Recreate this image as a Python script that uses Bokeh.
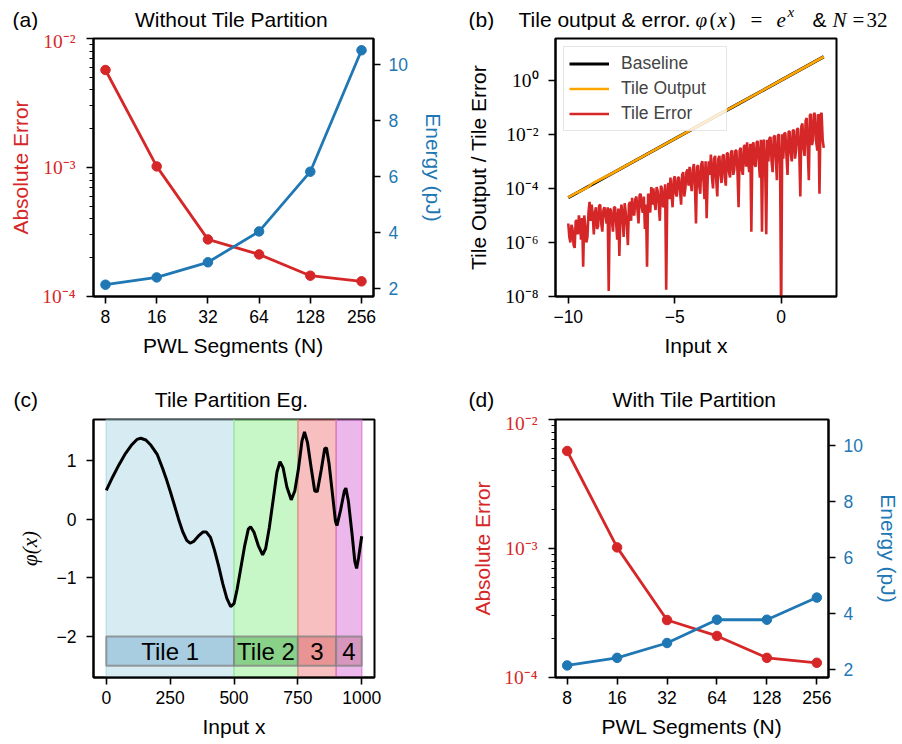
import numpy as np
from bokeh.plotting import figure
from bokeh.models import Range1d, LinearAxis, FixedTicker, BoxAnnotation, Legend, LinearScale
from bokeh.layouts import column, row
from bokeh.embed import file_html
from bokeh.resources import INLINE
from bokeh.core.properties import value

# ---------------- data ----------------
segments = [8, 16, 32, 64, 128, 256]
segment_labels = ["8", "16", "32", "64", "128", "256"]
error_without = [5.7e-3, 1.02e-3, 2.77e-4, 2.12e-4, 1.45e-4, 1.31e-4]
energy_without = [2.14, 2.40, 2.94, 4.04, 6.17, 10.5]
error_with = [5.7e-3, 1.02e-3, 2.79e-4, 2.10e-4, 1.42e-4, 1.30e-4]
energy_with = [2.15, 2.42, 2.95, 3.78, 3.78, 4.57]

baseline_x = [-10, -8, -6, -4, -2, 0, 2]
baseline_y = [4.54e-5, 3.35e-4, 2.48e-3, 1.83e-2, 0.135, 1.0, 7.39]
tile_output_x = [-10, -9.6, -9.1, -8.85, -8, -6, -4, -2, 0, 2]
tile_output_y = [4.6e-5, 6.9e-5, 1.08e-4, 1.55e-4, 3.4e-4, 2.5e-3, 1.84e-2, 0.136, 1.0, 7.39]
tile_error_log10 = [
    -5.3, -5.8, -6.0, -5.35, -5.5, -6.1, -6.2, -5.2, -5.2, -5.7, -5.0, -5.3, -5.9, -5.1, -6.9, -5.0, -5.4, -6.0, -5.8, -4.9,
    -4.5, -5.2, -4.6, -5.0, -5.7, -4.9, -4.7, -5.5, -5.4, -4.65, -4.6, -5.3, -5.6, -4.8, -4.7, -5.0, -5.3, -4.7, -7.8, -4.75,
    -4.8, -5.2, -5.6, -4.7, -4.7, -5.3, -5.9, -4.75, -6.5, -5.0, -4.6, -5.1, -5.8, -4.55, -4.9, -5.4, -6.1, -4.6, -4.5, -5.2,
    -4.35, -4.9, -5.0, -4.4, -4.3, -4.8, -5.3, -4.25, -4.2, -4.7, -4.9, -4.3, -5.5, -4.6, -6.9, -4.2, -4.3, -4.9, -3.95, -4.6,
    -4.0, -4.5, -4.8, -3.95, -4.1, -4.6, -5.2, -3.9, -4.0, -4.7, -4.6, -3.85, -7.75, -4.3, -3.8, -4.4, -3.6, -4.2, -4.7, -3.7,
    -3.55, -4.2, -4.3, -3.6, -3.6, -4.1, -4.6, -3.5, -3.4, -4.3, -4.0, -3.4, -3.3, -3.9, -3.2, -3.8, -4.1, -3.3, -3.1, -3.9,
    -5.3, -3.2, -3.15, -3.9, -4.2, -3.1, -3.0, -3.7, -4.4, -3.0, -5.1, -3.6, -3.0, -3.5, -2.75, -3.6, -4.0, -2.9, -2.8, -3.7,
    -4.3, -2.9, -2.8, -3.5, -3.8, -2.8, -2.75, -3.6, -3.9, -2.7, -2.7, -3.4, -3.6, -2.65, -2.6, -3.5, -3.3, -2.6, -2.6, -3.4,
    -4.7, -2.6, -2.5, -3.3, -3.5, -2.45, -2.4, -3.2, -2.3, -3.0, -3.4, -2.35, -5.6, -2.4, -2.3, -3.1, -3.2, -2.3, -2.25, -3.0,
    -3.6, -2.2, -5.6, -2.3, -2.2, -3.2, -5.7, -2.2, -3.0, -2.15, -2.1, -3.0, -3.4, -2.1, -2.05, -2.9, -3.7, -2.05, -2.0, -3.1,
    -9.0, -2.0, -2.9, -1.95, -1.97, -2.8, -3.5, -1.9, -1.9, -2.7, -3.0, -1.85, -1.85, -2.9, -2.6, -1.8, -1.8, -2.6, -4.3, -1.7,
    -1.6, -2.5, -2.8, -1.5, -1.4, -2.6, -3.7, -1.3, -1.25, -2.4, -2.2, -1.2, -1.3, -2.3, -2.6, -1.25, -4.2, -1.3, -1.2, -2.2,
    -2.5]
tile_error_x = np.linspace(-10, 2, len(tile_error_log10))
tile_error = [10.0 ** v for v in tile_error_log10]

phi_x = [0, 25, 50, 75, 100, 120, 135, 155, 175, 200, 221, 234, 250, 266, 283,
         299, 315, 328, 342, 360, 378, 392, 408, 423, 440, 456, 472, 487, 500, 512,
         526, 542, 556, 565, 578, 595, 612, 624, 638, 654, 668, 680, 692, 707, 724,
         738, 752, 766, 776, 788, 803, 816, 826, 842, 855, 862, 872, 885, 897, 903,
         917, 932, 938, 948, 962, 973, 980, 988, 1000]
phi_y = [0.49, 0.72, 0.93, 1.12, 1.27, 1.36, 1.38, 1.35, 1.26, 1.10, 0.86, 0.70, 0.48, 0.25, 0.0,
         -0.21, -0.36, -0.41, -0.38, -0.29, -0.22, -0.22, -0.31, -0.52, -0.80, -1.10, -1.35, -1.49, -1.44, -1.20,
         -0.85, -0.45, -0.17, -0.13, -0.22, -0.45, -0.61, -0.50, -0.15, 0.35, 0.80, 0.98, 0.88, 0.55, 0.33,
         0.48, 0.85, 1.33, 1.49, 1.30, 0.85, 0.48, 0.47, 0.85, 1.20, 1.22, 0.95, 0.45, -0.03, -0.11,
         0.15, 0.48, 0.53, 0.30, -0.25, -0.72, -0.84, -0.65, -0.29]
tile_labels = ["Tile 1", "Tile 2", "3", "4"]
tile_start = [0, 500, 750, 900]
tile_end = [500, 750, 900, 1000]
tile_box_bottom = -2.5
tile_box_top = -2.0
band_colors = ["lightblue", "lightgreen", "lightcoral", "orchid"]
box_colors = ["#A8CCE0", "#89D089", "#E99494", "#D796BE"]

log_major = [1e-4, 1e-3, 1e-2]
log_minor = [2e-4, 3e-4, 4e-4, 5e-4, 6e-4, 7e-4, 8e-4, 9e-4,
             2e-3, 3e-3, 4e-3, 5e-3, 6e-3, 7e-3, 8e-3, 9e-3]
log_labels = {1e-4: "10⁻⁴", 1e-3: "10⁻³", 1e-2: "10⁻²"}
b_y_ticks = [1e-8, 1e-6, 1e-4, 1e-2, 1.0]
b_y_labels = {1e-8: "10⁻⁸", 1e-6: "10⁻⁶", 1e-4: "10⁻⁴", 1e-2: "10⁻²", 1.0: "10⁰"}
b_x_ticks = [-10, -5, 0]
b_x_labels = {-10: "−10", -5: "−5", 0: "0"}
c_x_ticks = [0, 250, 500, 750, 1000]
c_y_ticks = [-2, -1, 0, 1]
c_y_labels = {-2: "−2", -1: "−1", 0: "0", 1: "1"}
energy_ticks = [2, 4, 6, 8, 10]

FONT = "Liberation Sans"
SERIF = "Liberation Serif"
RED = "#d62728"
BLUE = "#1f77b4"


def base_fig(width, height, bl, br, bt, bb, x_range, y_range, x_type="linear", y_type="linear"):
    p = figure(width=width, height=height, x_range=x_range, y_range=y_range,
               x_axis_type=x_type, y_axis_type=y_type, output_backend="svg",
               toolbar_location=None, min_border_left=bl, min_border_right=br,
               min_border_top=bt, min_border_bottom=bb, title=None)
    p.grid.visible = False
    p.outline_line_color = "black"
    p.outline_line_width = 2
    p.outline_line_alpha = 1
    p.background_fill_color = "white"
    p.border_fill_color = "white"
    return p


def style_axis(ax, label, tick_color="black", label_color="black", tick_font=FONT,
               tick_size="17.5px", standoff=8, label_standoff=8):
    ax.axis_label = label
    ax.axis_label_text_font = FONT
    ax.axis_label_text_font_size = "21px"
    ax.axis_label_text_font_style = "normal"
    ax.axis_label_text_color = label_color
    ax.axis_label_standoff = label_standoff
    ax.major_label_text_font = tick_font
    ax.major_label_text_font_size = tick_size
    ax.major_label_text_color = tick_color
    ax.major_label_standoff = standoff
    ax.axis_line_color = "black"
    ax.axis_line_width = 2
    ax.major_tick_line_color = "black"
    ax.major_tick_line_width = 1.6
    ax.major_tick_out = 7
    ax.major_tick_in = 0
    ax.minor_tick_line_color = "black"
    ax.minor_tick_line_width = 1.2
    ax.minor_tick_out = 4
    ax.minor_tick_in = 0


def header(height, items):
    h = figure(width=902, height=height, x_range=Range1d(0, 902), y_range=Range1d(0, height),
               output_backend="svg", toolbar_location=None, title=None,
               min_border_left=0, min_border_right=0, min_border_top=0, min_border_bottom=0,
               x_axis_location=None, y_axis_location=None)
    h.outline_line_color = None
    h.grid.visible = False
    h.background_fill_color = "white"
    h.border_fill_color = "white"
    for txt, x, y, align, font, style, size in items:
        h.text(x=[x], y=[y], text=[txt], text_align=align, text_baseline="alphabetic",
               text_font=value(font), text_font_size=value(size),
               text_font_style=style, text_color="black")
    return h


def pwl_panel(width, height, bl, br, bt, bb, errors, energies):
    x_rng = Range1d(2 ** (3 - 0.234), 2 ** (8 + 0.234))
    p = base_fig(width, height, bl, br, bt, bb, x_rng, Range1d(1e-4, 1e-2), x_type="log", y_type="log")
    p.extra_y_ranges = {"energy": Range1d(1.72, 10.92)}
    p.extra_y_scales = {"energy": LinearScale()}
    p.line(segments, errors, color=RED, line_width=2.8)
    p.scatter(segments, errors, color=RED, size=9.5)
    p.line(segments, energies, color=BLUE, line_width=2.8, y_range_name="energy")
    p.scatter(segments, energies, color=BLUE, size=9.5, y_range_name="energy")
    p.xaxis.ticker = FixedTicker(ticks=segments, minor_ticks=[])
    p.xaxis.major_label_overrides = dict(zip(segments, segment_labels))
    style_axis(p.xaxis[0], "PWL Segments (N)", standoff=6, label_standoff=8)
    p.yaxis.ticker = FixedTicker(ticks=log_major, minor_ticks=log_minor)
    p.yaxis.major_label_overrides = log_labels
    style_axis(p.yaxis[0], "Absolute Error", tick_color=RED, label_color=RED, tick_font=SERIF,
               tick_size="19.5px", standoff=11, label_standoff=7)
    right = LinearAxis(y_range_name="energy", ticker=FixedTicker(ticks=energy_ticks, minor_ticks=[]))
    p.add_layout(right, "right")
    style_axis(right, "Energy (pJ)", tick_color=BLUE, label_color=BLUE, standoff=8, label_standoff=11)
    return p


# ---------------- titles ----------------
T = "21px"
y1 = 11
head1 = header(30, [
    ("(a)", 12, y1, "left", FONT, "normal", T),
    ("Without Tile Partition", 231, y1, "center", FONT, "normal", T),
    ("(b)", 468, y1, "left", FONT, "normal", T),
    ("Tile output & error.", 518, y1, "left", FONT, "normal", T),
    ("φ", 695, y1, "left", SERIF, "italic", T),
    ("(", 709, y1, "left", SERIF, "normal", T),
    ("x", 717, y1, "left", SERIF, "italic", T),
    (")", 728, y1, "left", SERIF, "normal", T),
    ("=", 750, y1, "left", SERIF, "normal", T),
    ("e", 776, y1, "left", SERIF, "italic", T),
    ("x", 787, y1 + 8, "left", SERIF, "italic", "15px"),
    ("&", 812, y1, "left", FONT, "normal", T),
    ("N", 832, y1, "left", SERIF, "italic", T),
    ("=", 852, y1, "left", SERIF, "normal", T),
    ("32", 866, y1, "left", SERIF, "normal", T),
])
y2 = 13
head2 = header(40, [
    ("(c)", 13, y2, "left", FONT, "normal", T),
    ("Tile Partition Eg.", 231, y2, "center", FONT, "normal", T),
    ("(d)", 468, y2, "left", FONT, "normal", T),
    ("With Tile Partition", 694, y2, "center", FONT, "normal", T),
])

# ---------------- (a) ----------------
pa = pwl_panel(450, 342, 93, 77, 8, 76, error_without, energy_without)

# ---------------- (b) ----------------
pb = base_fig(452, 342, 105, 66, 8, 76, Range1d(-10.6, 2.6), Range1d(1e-8, 10 ** 1.544), y_type="log")
r1 = pb.line(baseline_x, baseline_y, color="black", line_width=3.2)
r2 = pb.line(tile_output_x, tile_output_y, color="orange", line_width=2.6)
r3 = pb.line(tile_error_x, tile_error, color=RED, line_width=2.6)
pb.xaxis.ticker = FixedTicker(ticks=b_x_ticks, minor_ticks=[])
pb.xaxis.major_label_overrides = b_x_labels
style_axis(pb.xaxis[0], "Input x", standoff=6, label_standoff=8)
pb.yaxis.ticker = FixedTicker(ticks=b_y_ticks, minor_ticks=[])
pb.yaxis.major_label_overrides = b_y_labels
style_axis(pb.yaxis[0], "Tile Output / Tile Error", tick_font=SERIF, tick_size="19.5px",
           standoff=10, label_standoff=12)
legend = Legend(items=[("Baseline", [r1]), ("Tile Output", [r2]), ("Tile Error", [r3])],
                location="top_left")
legend.label_text_font = FONT
legend.label_text_font_size = "17.5px"
legend.glyph_width = 40
legend.glyph_height = 23
legend.label_height = 23
legend.label_width = 100
legend.spacing = 2
legend.padding = 5
legend.margin = 8
legend.label_standoff = 12
legend.border_line_color = "#cccccc"
legend.border_line_width = 1.5
legend.background_fill_alpha = 0.8
pb.add_layout(legend)

# ---------------- (c) ----------------
pc = base_fig(450, 332, 93, 76, 7, 67, Range1d(-50, 1050), Range1d(-2.7, 1.7))
for s, e, c in zip(tile_start, tile_end, band_colors):
    pc.add_layout(BoxAnnotation(left=s, right=e, fill_color=c, fill_alpha=0.5,
                                line_color=c, line_alpha=0.7, line_width=1.5, level="underlay"))
pc.quad(left=tile_start, right=tile_end, bottom=tile_box_bottom, top=tile_box_top,
        fill_color=box_colors, fill_alpha=1.0, line_color="#808080", line_alpha=0.75, line_width=2)
tile_centers = [(s + e) / 2 for s, e in zip(tile_start, tile_end)]
pc.text(x=tile_centers, y=[(tile_box_bottom + tile_box_top) / 2] * len(tile_centers),
        text=tile_labels, text_align="center", text_baseline="middle",
        text_font=value(FONT), text_font_size=value("24px"), text_color="black")
pc.line(phi_x, phi_y, color="black", line_width=3)
pc.xaxis.ticker = FixedTicker(ticks=c_x_ticks, minor_ticks=[])
style_axis(pc.xaxis[0], "Input x", standoff=6, label_standoff=8)
pc.yaxis.ticker = FixedTicker(ticks=c_y_ticks, minor_ticks=[])
pc.yaxis.major_label_overrides = c_y_labels
style_axis(pc.yaxis[0], "φ(x)", standoff=10, label_standoff=12)
pc.yaxis[0].axis_label_text_font = SERIF
pc.yaxis[0].axis_label_text_font_style = "italic"

# ---------------- (d) ----------------
pd_ = pwl_panel(452, 332, 105, 66, 7, 67, error_with, energy_with)

layout = column(head1, row(pa, pb), head2, row(pc, pd_))
with open("out.html", "w", encoding="utf-8") as f:
    f.write(file_html(layout, INLINE))
